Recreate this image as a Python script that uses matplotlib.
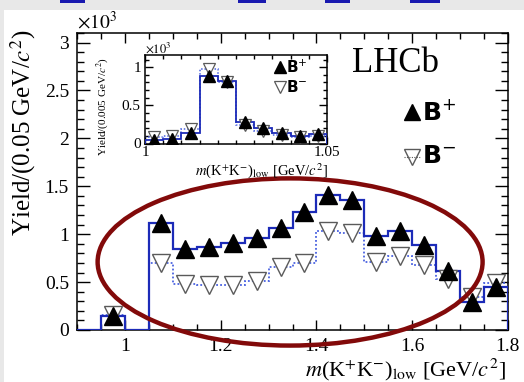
import numpy as np
import matplotlib
matplotlib.use("Agg")
import matplotlib.pyplot as plt
from matplotlib.patches import Ellipse, Rectangle
from matplotlib.ticker import MultipleLocator

plt.rcParams['font.family'] = ['Liberation Serif', 'DejaVu Serif']
plt.rcParams['mathtext.fontset'] = 'stix'

# ---- main spectrum: m(K+K-)_low, 0.05 GeV/c^2 bins (yields in units of 10^3)
edges_main = np.linspace(0.9, 1.8, 19)
yield_bplus = [0.0, 0.15, 0.0, 1.12, 0.85, 0.87, 0.905, 0.96, 1.06, 1.23,
               1.41, 1.36, 0.98, 1.03, 0.885, 0.62, 0.29, 0.45]
yield_bminus = [0.0, 0.16, 0.0, 0.70, 0.48, 0.465, 0.465, 0.51, 0.66, 0.70,
                1.03, 1.01, 0.71, 0.77, 0.68, 0.53, 0.34, 0.49]
xtick_main = [1.0, 1.2, 1.4, 1.6, 1.8]
xticklabels_main = ['1', '1.2', '1.4', '1.6', '1.8']
ytick_main = [0, 0.5, 1, 1.5, 2, 2.5, 3]
yticklabels_main = ['0', '0.5', '1', '1.5', '2', '2.5', '3']

# ---- inset: phi region, 0.005 GeV/c^2 bins
edges_inset = np.linspace(1.0, 1.05, 11)
inset_bplus = [0.045, 0.065, 0.14, 0.89, 0.82, 0.28, 0.20, 0.14, 0.10, 0.12]
inset_bminus = [0.09, 0.10, 0.19, 0.97, 0.80, 0.24, 0.17, 0.11, 0.09, 0.10]

W, H = 524, 382
fig = plt.figure(figsize=(W / 100, H / 100), dpi=100, facecolor='white')


def fx(px):
    return px / W


def fy(py):
    return 1 - py / H


# grey page margins (left strip and top band)
fig.patches.append(Rectangle((0, 0), fx(4), 1, transform=fig.transFigure,
                             facecolor='#e8e8e8', edgecolor='none', zorder=-10))
fig.patches.append(Rectangle((0, fy(10)), 1, 1 - fy(10), transform=fig.transFigure,
                             facecolor='#e8e8e8', edgecolor='none', zorder=-10))
# blue link fragments along the top edge
for x0, x1 in [(60, 85), (238, 266), (325, 350), (410, 440)]:
    fig.patches.append(Rectangle((fx(x0), fy(2.5)), fx(x1) - fx(x0), 2.5 / H,
                                 transform=fig.transFigure, facecolor='#1a1ab0',
                                 edgecolor='none', zorder=-9))

BLUE = '#1c2bb8'
BLUE_DOT = '#4a62e0'
EDGE_GRAY = '#5a5a5a'


def style_axes(ax, fs, xmaj, xmin_len, ymaj, ymin_len):
    ax.tick_params(which='both', direction='in', top=True, right=True,
                   width=1.0, labelsize=fs)
    ax.tick_params(axis='x', which='major', length=xmaj)
    ax.tick_params(axis='x', which='minor', length=xmin_len)
    ax.tick_params(axis='y', which='major', length=ymaj)
    ax.tick_params(axis='y', which='minor', length=ymin_len)
    for sp in ax.spines.values():
        sp.set_linewidth(1.1)
        sp.set_color('black')


def centers(edges):
    e = np.asarray(edges)
    return 0.5 * (e[:-1] + e[1:])


# ---------------- main axes
ax = fig.add_axes([fx(77.3), fy(330), fx(507.7) - fx(77.3), fy(33) - fy(330)])
ax.set_facecolor('white')
ax.set_xlim(0.9, 1.8)
ax.set_ylim(0, 3.1)
ax.stairs(yield_bminus, edges_main, color=BLUE_DOT, lw=1.3, ls=(0, (1, 1.2)), zorder=2)
ax.stairs(yield_bplus, edges_main, color=BLUE, lw=1.6, zorder=3)
c = centers(edges_main)
bm = np.array(yield_bminus)
bp = np.array(yield_bplus)
ax.plot(c[bm > 0], bm[bm > 0], ls='none', marker='v', ms=13, mfc='white',
        mec=EDGE_GRAY, mew=1.0, zorder=4)
ax.plot(c[bp > 0], bp[bp > 0], ls='none', marker='^', ms=13, mfc='black',
        mec='black', zorder=5)
ax.set_xticks(xtick_main)
ax.set_xticklabels(xticklabels_main)
ax.set_yticks(ytick_main)
ax.set_yticklabels(yticklabels_main)
ax.xaxis.set_minor_locator(MultipleLocator(0.05))
ax.yaxis.set_minor_locator(MultipleLocator(0.1))
style_axes(ax, 14, 7, 4, 9.5, 5)
ax.tick_params(axis='x', pad=6)
ax.tick_params(axis='y', pad=6)

fig.text(fx(77), fy(22), r'$\times10^{3}$', fontsize=14, ha='left', va='center')
fig.text(fx(23), fy(29), r'Yield/(0.05 GeV/$c^{2}$)', fontsize=18,
         rotation=90, ha='center', va='top')
fig.text(fx(506), fy(370), r'$m$(K$^{+}$K$^{-}$)$_{\mathrm{low}}$ [GeV/$c^{2}$]',
         fontsize=16, ha='right', va='center')
fig.text(fx(352), fy(64), 'LHCb', fontsize=25, ha='left', va='center')

# legend
fig.add_artist(plt.Line2D([fx(412)], [fy(112)], marker='^', ms=12, mfc='black',
                          mec='black', ls='none', transform=fig.transFigure))
fig.add_artist(plt.Line2D([fx(404), fx(420)], [fy(157), fy(157)], ls=(0, (1, 1.2)),
                          color=EDGE_GRAY, lw=0.8, transform=fig.transFigure))
fig.add_artist(plt.Line2D([fx(412)], [fy(157)], marker='v', ms=12, mfc='none',
                          mec=EDGE_GRAY, mew=1.0, ls='none', transform=fig.transFigure))
fig.text(fx(422), fy(112), r'$\mathbf{B}^{+}$', fontsize=18, ha='left', va='center',
         math_fontfamily='dejavusans')
fig.text(fx(422), fy(157), r'$\mathbf{B}^{-}$', fontsize=18, ha='left', va='center',
         math_fontfamily='dejavusans')

# highlighted region
ax.add_patch(Ellipse((1.345, 0.71), 0.805, 1.745, facecolor='none',
                     edgecolor='#820a0a', lw=3.2, clip_on=False, zorder=6))

# ---------------- inset
axi = fig.add_axes([fx(145), fy(143.5), fx(327) - fx(145), fy(55) - fy(143.5)])
axi.set_facecolor('white')
axi.set_xlim(1.0, 1.05)
axi.set_ylim(0, 1.16)
axi.stairs(inset_bminus, edges_inset, color=BLUE_DOT, lw=1.1, ls=(0, (1, 1.2)), zorder=2)
axi.stairs(inset_bplus, edges_inset, color=BLUE, lw=1.3, zorder=3)
ci = centers(edges_inset)
axi.plot(ci, inset_bminus, ls='none', marker='v', ms=9, mfc='white',
         mec=EDGE_GRAY, mew=0.9, zorder=4)
axi.plot(ci, inset_bplus, ls='none', marker='^', ms=9, mfc='black', mec='black', zorder=5)
axi.set_xticks([1.0, 1.05])
axi.set_xticklabels(['1', '1.05'])
axi.set_yticks([0, 0.5, 1])
axi.set_yticklabels(['0', '0.5', '1'])
axi.xaxis.set_minor_locator(MultipleLocator(0.005))
axi.yaxis.set_minor_locator(MultipleLocator(0.1))
style_axes(axi, 11, 5, 3, 6, 3)
axi.tick_params(axis='x', pad=2)
axi.tick_params(axis='y', pad=3)
fig.text(fx(145), fy(48), r'$\times10^{3}$', fontsize=9, ha='left', va='center')
fig.text(fx(103), fy(57), r'Yield/(0.005 GeV/$c^{2}$)', fontsize=8,
         rotation=90, ha='center', va='top')
fig.text(fx(328), fy(171), r'$m$(K$^{+}$K$^{-}$)$_{\mathrm{low}}$ [GeV/$c^{2}$]',
         fontsize=10.5, ha='right', va='center')
fig.add_artist(plt.Line2D([fx(280)], [fy(67)], marker='^', ms=9, mfc='black',
                          mec='black', ls='none', transform=fig.transFigure))
fig.add_artist(plt.Line2D([fx(280)], [fy(87)], marker='v', ms=9, mfc='none',
                          mec=EDGE_GRAY, mew=0.9, ls='none', transform=fig.transFigure))
fig.text(fx(286), fy(67), r'$\mathbf{B}^{+}$', fontsize=11, ha='left', va='center',
         math_fontfamily='dejavusans')
fig.text(fx(286), fy(87), r'$\mathbf{B}^{-}$', fontsize=11, ha='left', va='center',
         math_fontfamily='dejavusans')

fig.savefig('out.png', dpi=100, facecolor=fig.get_facecolor())
